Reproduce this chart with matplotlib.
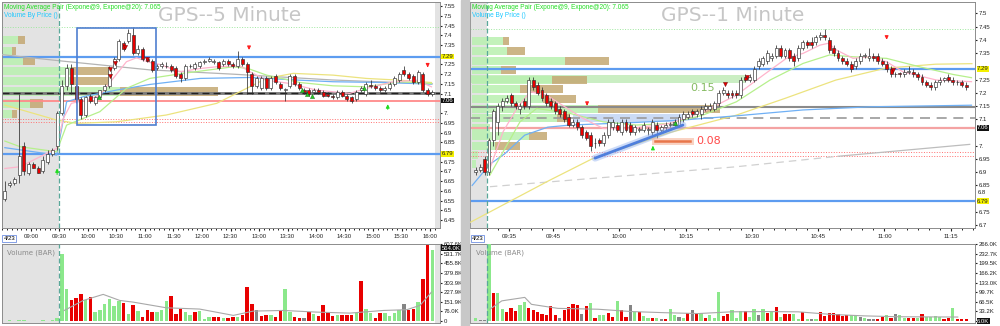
"""Two-panel intraday chart of GPS: 5-minute and 1-minute candles with volume."""

import matplotlib

matplotlib.use("Agg")
import matplotlib.pyplot as plt
import numpy as np
from matplotlib.patches import Rectangle

plt.rcParams["font.family"] = ["Liberation Sans", "DejaVu Sans"]

# ---------------- 5-minute panel, bar 0 = 08:30 ----------------
open5 = [6.56, 6.63, 6.64, 6.68, 6.83, 6.69, 6.74, 6.72, 6.70, 6.75, 6.79, 6.83,
         7.00, 7.14, 7.23, 7.14, 7.07, 6.99, 7.09, 7.05, 7.08, 7.12, 7.14, 7.23,
         7.28, 7.36, 7.37, 7.40, 7.31, 7.33, 7.28, 7.27, 7.23, 7.24, 7.24, 7.24,
         7.23, 7.20, 7.18, 7.24, 7.23, 7.24, 7.26, 7.27, 7.26, 7.26, 7.25, 7.27,
         7.25, 7.24, 7.28, 7.25, 7.20, 7.14, 7.13, 7.18, 7.13, 7.19, 7.15, 7.12,
         7.14, 7.19, 7.15, 7.12, 7.12, 7.11, 7.12, 7.11, 7.10, 7.09, 7.08, 7.11,
         7.09, 7.08, 7.07, 7.12, 7.10, 7.145, 7.14, 7.13, 7.12, 7.13, 7.15, 7.17,
         7.22, 7.20, 7.19, 7.16, 7.20, 7.12, 7.10]
high5 = [6.65, 6.65, 6.67, 7.10, 6.85, 6.75, 6.75, 6.73, 6.78, 6.81, 6.82, 7.01,
         7.17, 7.25, 7.25, 7.15, 7.08, 7.09, 7.10, 7.09, 7.12, 7.15, 7.24, 7.29,
         7.38, 7.37, 7.43, 7.44, 7.35, 7.34, 7.29, 7.28, 7.25, 7.26, 7.26, 7.25,
         7.24, 7.21, 7.25, 7.25, 7.26, 7.27, 7.28, 7.29, 7.28, 7.27, 7.28, 7.28,
         7.26, 7.32, 7.29, 7.26, 7.21, 7.19, 7.19, 7.19, 7.19, 7.20, 7.16, 7.13,
         7.20, 7.20, 7.16, 7.13, 7.13, 7.13, 7.13, 7.12, 7.11, 7.10, 7.12, 7.12,
         7.10, 7.09, 7.12, 7.14, 7.16, 7.17, 7.15, 7.14, 7.14, 7.16, 7.19, 7.21,
         7.24, 7.21, 7.20, 7.22, 7.21, 7.13, 7.12]
low5 = [6.55, 6.62, 6.63, 6.64, 6.68, 6.68, 6.72, 6.69, 6.69, 6.74, 6.78, 6.81,
        6.99, 7.12, 7.10, 7.05, 6.97, 6.98, 7.05, 7.04, 7.07, 7.11, 7.13, 7.22,
        7.27, 7.32, 7.36, 7.30, 7.30, 7.27, 7.26, 7.21, 7.22, 7.23, 7.23, 7.21,
        7.18, 7.16, 7.17, 7.23, 7.22, 7.23, 7.25, 7.26, 7.25, 7.22, 7.24, 7.24,
        7.23, 7.23, 7.24, 7.10, 7.10, 7.13, 7.12, 7.12, 7.12, 7.15, 7.12, 7.06,
        7.13, 7.14, 7.12, 7.10, 7.09, 7.10, 7.10, 7.08, 7.08, 7.07, 7.07, 7.08,
        7.06, 7.05, 7.06, 7.11, 7.09, 7.13, 7.12, 7.11, 7.11, 7.12, 7.14, 7.16,
        7.19, 7.17, 7.15, 7.15, 7.11, 7.09, 7.09]
close5 = [6.60, 6.64, 6.66, 6.78, 6.70, 6.74, 6.72, 6.69, 6.76, 6.79, 6.81, 7.00,
          7.14, 7.23, 7.15, 7.07, 6.99, 7.08, 7.06, 7.08, 7.12, 7.14, 7.23, 7.28,
          7.37, 7.33, 7.41, 7.31, 7.33, 7.28, 7.27, 7.22, 7.24, 7.25, 7.24, 7.22,
          7.19, 7.18, 7.24, 7.24, 7.25, 7.26, 7.27, 7.28, 7.27, 7.23, 7.27, 7.25,
          7.24, 7.28, 7.25, 7.21, 7.14, 7.18, 7.18, 7.13, 7.18, 7.16, 7.13, 7.12,
          7.19, 7.15, 7.13, 7.11, 7.10, 7.12, 7.11, 7.09, 7.09, 7.08, 7.11, 7.09,
          7.07, 7.06, 7.11, 7.13, 7.15, 7.14, 7.13, 7.12, 7.13, 7.15, 7.18, 7.20,
          7.20, 7.18, 7.16, 7.21, 7.12, 7.10, 7.11]
# volume in thousands and direction (1 up, -1 down, 0 unchanged)
vol5 = [4, 5, 3, 6, 5, 4, 3, 4, 5, 4, 6, 26, 533, 256, 169, 185, 211, 169, 190,
        71, 90, 132, 177, 116, 156, 142, 58, 129, 82, 34, 84, 69, 69, 90, 158, 195,
        53, 92, 69, 45, 69, 76, 18, 34, 32, 29, 26, 26, 32, 32, 50, 269, 137, 84,
        42, 50, 50, 32, 90, 256, 69, 29, 26, 26, 71, 53, 37, 124, 71, 40, 50, 50,
        50, 45, 63, 314, 98, 63, 26, 66, 66, 37, 63, 90, 132, 84, 92, 150, 335,
        598, 564]
voldir5 = [1, 1, 1, 1, 1, 1, 1, 1, 1, 1, 1, 1, 1, 1, -1, -1, -1, 1, -1, 1, 1, 1,
           1, 1, 1, -1, 1, -1, 1, -1, -1, -1, 1, 1, 1, -1, -1, -1, 1, 1, -1, 1, 1,
           1, -1, -1, 1, -1, -1, 1, -1, -1, -1, 0, -1, -1, 1, -1, -1, 1, 1, -1, -1,
           0, -1, 1, -1, -1, -1, -1, 1, -1, -1, -1, 1, -1, 1, 1, -1, -1, 1, 1, 1, 1,
           0, -1, -1, 1, -1, -1, 1]
vol_ma5 = [(12.5, 84), (16.5, 163), (20.7, 211), (24.2, 163), (27.0, 150), (34.0, 105),
           (41.0, 95), (48.1, 45), (52.3, 79), (58.6, 84), (65.6, 71), (72.6, 63),
           (79.7, 84), (84.6, 90), (87.4, 124), (89.8, 229)]
ema9_5 = [(0, 6.715), (3.2, 6.724), (10.9, 6.818), (12.3, 6.972), (14.0, 7.05),
          (17.2, 7.067), (20.0, 7.092), (22.8, 7.178), (25.6, 7.264), (27.7, 7.284),
          (30.5, 7.26), (32.6, 7.25), (36.8, 7.212), (41.1, 7.229), (44.6, 7.238),
          (49.5, 7.243), (51.6, 7.212), (55.1, 7.169), (60.0, 7.152), (65.6, 7.118),
          (72.6, 7.101), (76.1, 7.127), (81.8, 7.161), (86.7, 7.169), (89.8, 7.135)]
ema20_5 = [(0, 6.856), (3.2, 6.827), (10.9, 6.801), (13.0, 6.938), (20.0, 7.007),
           (25.6, 7.127), (30.5, 7.178), (37.5, 7.204), (48.1, 7.238), (51.2, 7.229),
           (55.1, 7.195), (62.1, 7.157), (69.1, 7.14), (76.1, 7.135), (83.2, 7.161),
           (89.8, 7.152)]
ma_yellow5 = [(0, 7.041), (10.9, 6.964), (15.1, 6.947), (23.5, 6.955), (34.0, 6.99),
              (44.6, 7.05), (50.9, 7.127), (55.1, 7.178), (60.7, 7.204), (69.1, 7.195),
              (76.1, 7.178), (83.2, 7.169), (89.8, 7.157)]
ma_blue5 = [(0, 6.822), (10.9, 6.784), (11.8, 6.90), (13.0, 7.058), (16.5, 7.084),
            (23.5, 7.118), (30.5, 7.147), (41.1, 7.178), (51.6, 7.183), (62.1, 7.169),
            (69.1, 7.161), (79.7, 7.157), (89.8, 7.149)]
ma_gray5 = [(-0.5, 7.30), (13.0, 7.265), (30.5, 7.222), (48.0, 7.20), (69.0, 7.17),
            (90.0, 7.15)]
vbp_levels5 = [7.375, 7.319, 7.267, 7.216, 7.164, 7.110, 7.049, 6.995]
vbp_up5 = [16, 10, 21, 70, 70, 118, 28, 10]
vbp_down5 = [7, 4, 12, 38, 38, 98, 13, 5]
sell_marks5 = [(22.2, 7.229), (22.2, 7.19), (23.2, 7.255), (25.2, 7.34), (30.0, 7.28)]
buy_marks5 = [(19.9, 7.08), (62.6, 7.118), (63.6, 7.10), (64.6, 7.09), (75.6, 7.127)]
down_arrows5 = [(51.4, 7.35, 7.31), (89.0, 7.26, 7.22)]
up_arrows5 = [(11.0, 6.67, 6.73), (80.6, 7.005, 7.06)]
time_labels5 = ["09:00", "09:30", "10:00", "10:30", "11:00", "11:30", "12:00", "12:30",
                "13:00", "13:30", "14:00", "14:30", "15:00", "15:30", "16:00"]
vol_ticks5 = [0, 76.0, 151.9, 227.9, 303.9, 379.8, 455.8, 531.7, 607.6]

# ---------------- 1-minute panel, bar 0 = 09:30 ----------------
minute1 = list(range(-3, 109))
open1 = [6.90, 6.91, 6.95, 6.90, 7.02, 7.09, 7.15, 7.17, 7.19, 7.16, 7.14, 7.17,
         7.15, 7.25, 7.23, 7.21, 7.19, 7.17, 7.16, 7.14, 7.13, 7.11, 7.08, 7.09,
         7.07, 7.05, 7.04, 7.01, 7.02, 7.01, 7.04, 7.07, 7.08, 7.05, 7.09, 7.08,
         7.05, 7.06, 7.06, 7.06, 7.05, 7.08, 7.06, 7.07, 7.08, 7.08, 7.08, 7.10,
         7.11, 7.13, 7.12, 7.12, 7.14, 7.14, 7.14, 7.16, 7.20, 7.20, 7.20, 7.20,
         7.19, 7.26, 7.25, 7.25, 7.30, 7.31, 7.32, 7.33, 7.34, 7.37, 7.34, 7.36,
         7.34, 7.33, 7.37, 7.39, 7.39, 7.39, 7.41, 7.42, 7.40, 7.37, 7.35, 7.33,
         7.32, 7.31, 7.30, 7.32, 7.34, 7.33, 7.34, 7.34, 7.32, 7.31, 7.29, 7.27,
         7.275, 7.27, 7.28, 7.28, 7.27, 7.26, 7.24, 7.23, 7.22, 7.24, 7.25, 7.26,
         7.25, 7.24, 7.24, 7.23]
high1 = [6.92, 6.93, 6.96, 7.03, 7.14, 7.16, 7.18, 7.19, 7.20, 7.17, 7.16, 7.18,
         7.26, 7.26, 7.24, 7.22, 7.20, 7.18, 7.17, 7.15, 7.14, 7.12, 7.10, 7.10,
         7.08, 7.06, 7.05, 7.03, 7.03, 7.05, 7.10, 7.10, 7.09, 7.10, 7.10, 7.09,
         7.08, 7.07, 7.09, 7.07, 7.10, 7.09, 7.08, 7.09, 7.09, 7.10, 7.12, 7.13,
         7.13, 7.14, 7.14, 7.15, 7.16, 7.16, 7.17, 7.21, 7.22, 7.21, 7.21, 7.21,
         7.26, 7.27, 7.27, 7.30, 7.33, 7.34, 7.36, 7.35, 7.38, 7.38, 7.37, 7.37,
         7.35, 7.38, 7.40, 7.40, 7.41, 7.42, 7.43, 7.44, 7.41, 7.38, 7.36, 7.34,
         7.33, 7.32, 7.33, 7.35, 7.35, 7.37, 7.35, 7.35, 7.33, 7.32, 7.30, 7.28,
         7.28, 7.29, 7.30, 7.29, 7.28, 7.27, 7.25, 7.24, 7.25, 7.26, 7.26, 7.27,
         7.26, 7.25, 7.25, 7.24]
low1 = [6.89, 6.90, 6.89, 6.89, 7.00, 7.04, 7.13, 7.16, 7.15, 7.14, 7.12, 7.14,
        7.14, 7.21, 7.19, 7.17, 7.15, 7.14, 7.12, 7.11, 7.09, 7.07, 7.07, 7.06,
        7.03, 7.02, 6.98, 6.99, 7.00, 7.00, 7.03, 7.06, 7.05, 7.04, 7.05, 7.04,
        7.04, 7.05, 7.05, 7.04, 7.04, 7.03, 7.05, 7.06, 7.07, 7.07, 7.07, 7.09,
        7.10, 7.11, 7.11, 7.10, 7.13, 7.13, 7.13, 7.15, 7.19, 7.18, 7.18, 7.18,
        7.18, 7.24, 7.24, 7.24, 7.29, 7.30, 7.31, 7.32, 7.33, 7.33, 7.33, 7.32,
        7.30, 7.32, 7.36, 7.37, 7.37, 7.38, 7.40, 7.40, 7.35, 7.34, 7.32, 7.31,
        7.30, 7.28, 7.29, 7.31, 7.33, 7.32, 7.32, 7.31, 7.30, 7.28, 7.26, 7.26,
        7.26, 7.26, 7.27, 7.26, 7.25, 7.23, 7.22, 7.21, 7.21, 7.23, 7.24, 7.24,
        7.23, 7.23, 7.22, 7.21]
close1 = [6.91, 6.92, 6.90, 7.02, 7.13, 7.15, 7.17, 7.18, 7.16, 7.15, 7.15, 7.15,
          7.25, 7.22, 7.20, 7.18, 7.16, 7.15, 7.13, 7.12, 7.10, 7.08, 7.09, 7.07,
          7.04, 7.03, 7.00, 7.01, 7.01, 7.04, 7.09, 7.09, 7.06, 7.09, 7.06, 7.05,
          7.07, 7.06, 7.08, 7.06, 7.09, 7.06, 7.07, 7.08, 7.08, 7.09, 7.11, 7.12,
          7.12, 7.12, 7.13, 7.14, 7.15, 7.15, 7.16, 7.20, 7.21, 7.19, 7.19, 7.19,
          7.25, 7.25, 7.26, 7.29, 7.32, 7.33, 7.35, 7.34, 7.37, 7.34, 7.36, 7.33,
          7.32, 7.37, 7.39, 7.38, 7.38, 7.41, 7.42, 7.41, 7.36, 7.35, 7.33, 7.32,
          7.31, 7.29, 7.32, 7.34, 7.34, 7.34, 7.33, 7.32, 7.31, 7.29, 7.27, 7.27,
          7.27, 7.28, 7.28, 7.27, 7.26, 7.24, 7.23, 7.22, 7.24, 7.25, 7.255, 7.25,
          7.24, 7.24, 7.23, 7.22]
vol1 = [12, 3, 3, 268, 96, 96, 41, 33, 47, 35, 55, 66, 44, 37, 31, 23, 20, 52, 20,
        12, 38, 50, 60, 56, 26, 52, 62, 9, 21, 21, 29, 15, 70, 37, 15, 55, 33, 33,
        18, 12, 12, 12, 6, 6, 43, 20, 15, 9, 27, 37, 23, 29, 12, 20, 12, 99, 18,
        26, 37, 12, 35, 35, 15, 41, 20, 41, 29, 35, 49, 14, 26, 26, 26, 6, 31, 8,
        8, 8, 31, 18, 29, 29, 23, 18, 20, 20, 20, 15, 12, 6, 6, 6, 15, 20, 12, 23,
        20, 12, 12, 12, 12, 23, 15, 15, 18, 15, 8, 12, 44, 6, 8, 6]
voldir1 = [1, 0, 0, 1, -1, 1, 1, -1, -1, -1, 1, 1, -1, -1, -1, -1, -1, -1, -1, 0,
           -1, -1, -1, -1, 0, -1, 1, -1, 1, 1, -1, -1, 1, -1, -1, 0, 1, -1, 1, 1,
           -1, 1, 0, -1, 1, 1, 0, 1, -1, 0, -1, 1, -1, 1, 1, 1, -1, -1, 1, 1, 1,
           -1, 1, 1, 0, 1, -1, 1, -1, 1, -1, -1, 1, 1, -1, 1, 0, 1, -1, -1, -1, -1,
           -1, -1, -1, 1, 1, 0, 1, 0, 0, -1, -1, 1, -1, 0, 1, 1, -1, -1, 1, -1, 1,
           1, 1, 1, -1, -1, 1, -1, -1, -1]
vol_ma1 = [(0.2, 41), (2.9, 70), (8.1, 82), (9.6, 58), (15.6, 44), (24.7, 41),
           (32.2, 33), (39.8, 29), (47.3, 26), (54.8, 32), (62.4, 33), (70.0, 32),
           (77.5, 23), (85.0, 18), (92.6, 15), (106.1, 14)]
ema9_1 = [(0.2, 6.914), (3.2, 7.053), (6.3, 7.141), (9.3, 7.204), (13.0, 7.191),
          (18.3, 7.135), (21.3, 7.103), (25.9, 7.065), (31.9, 7.065), (40.9, 7.084),
          (48.5, 7.128), (56.0, 7.191), (62.1, 7.267), (67.3, 7.330), (71.1, 7.349),
          (74.9, 7.380), (76.8, 7.387), (78.7, 7.361), (82.4, 7.330), (86.2, 7.336),
          (90.0, 7.317), (93.7, 7.279), (101.3, 7.248), (109.2, 7.242)]
ema20_1 = [(0.2, 6.889), (3.2, 6.977), (7.0, 7.090), (10.8, 7.141), (18.3, 7.122),
           (25.9, 7.090), (33.4, 7.078), (40.9, 7.084), (48.5, 7.116), (56.0, 7.166),
           (63.6, 7.248), (71.1, 7.311), (77.1, 7.343), (82.4, 7.336), (90.0, 7.330),
           (97.5, 7.298), (105.1, 7.269), (109.2, 7.257)]
ma_yellow1 = [(-4.3, 6.71), (13.8, 6.87), (23.3, 6.95), (41.0, 7.05), (55.9, 7.115),
              (67.2, 7.18), (78.5, 7.248), (89.8, 7.293), (101.1, 7.308), (109.3, 7.31)]
ma_blue1 = [(-3.8, 6.85), (0.2, 6.93), (3.6, 6.97), (8.1, 7.04), (13.3, 7.07),
            (18.3, 7.078), (33.5, 7.088), (43.9, 7.097), (56.1, 7.113), (71.0, 7.135),
            (86.2, 7.147), (109.2, 7.153)]
ma_gray1 = [(0.2, 6.845), (55.7, 6.92), (79.0, 6.96), (108.8, 7.005)]
vbp_levels1 = [7.395, 7.357, 7.320, 7.286, 7.250, 7.214, 7.176, 7.140, 7.104, 7.068,
               7.036, 7.000, 6.964, 6.930]
vbp_up1 = [31, 35, 93, 29, 80, 48, 71, 126, 85, 18, 57, 23, 6, 4]
vbp_down1 = [6, 18, 44, 15, 35, 43, 33, 122, 13, 0, 18, 25, 0, 0]
sell_marks1 = [(53.4, 7.232), (58.3, 7.26), (91.5, 7.286)]
buy_marks1 = [(42.1, 7.084)]
down_arrows1 = [(22.2, 7.17, 7.14), (90.0, 7.42, 7.39)]
up_arrows1 = [(37.1, 6.98, 7.01)]
time_ticks1 = [4.5, 14.5, 29.5, 44.5, 59.5, 74.5, 89.5, 104.5]
time_labels1 = ["09:35", "09:45", "10:00", "10:15", "10:30", "10:45", "11:00", "11:15"]
vol_ticks1 = [0, 33.2, 66.5, 99.7, 133.0, 166.2, 199.5, 232.7, 266.0]

GREEN_VOL = "#8be88b"
RED = "#e80000"
EDGE = "#303030"


def draw_candles(ax, x, opens, highs, lows, closes, width=0.62):
    """Draw OHLC candles: white body when up, red when down."""
    o = np.asarray(opens, float)
    c = np.asarray(closes, float)
    ax.vlines(x, lows, highs, color=EDGE, lw=0.55, zorder=4)
    bottom = np.minimum(o, c)
    height = np.maximum(np.abs(c - o), 0.002)
    colors = np.where(c >= o, "white", RED)
    ax.bar(x, height, width, bottom=bottom, color=colors, edgecolor=EDGE,
           linewidth=0.45, zorder=5)


def draw_volume(ax, x, volumes, directions, vol_ma, width=0.72):
    """Draw volume bars colored by direction with the average line."""
    palette = {1: GREEN_VOL, -1: RED, 0: "#858585"}
    colors = [palette[d] for d in directions]
    ax.bar(x, volumes, width, color=colors, edgecolor="none", zorder=3)
    ma = np.array(vol_ma)
    ax.plot(ma[:, 0], ma[:, 1], color="#a8a8a8", lw=0.8, zorder=4)


def draw_vbp(ax, x0, levels, ups, downs, px_per_bar, height):
    """Volume-by-price rows anchored to the left edge (lengths given in pixels)."""
    ups = np.asarray(ups) / px_per_bar
    downs = np.asarray(downs) / px_per_bar
    ax.barh(levels, ups, height, left=x0, color="#b9f0b0", alpha=0.85, zorder=1)
    ax.barh(levels, downs, height, left=x0 + ups, color="#c4a872", alpha=0.85, zorder=1)


def plot_line(ax, pts, color, lw=0.9, ls="-", z=3):
    arr = np.array(pts)
    ax.plot(arr[:, 0], arr[:, 1], color=color, lw=lw, ls=ls, zorder=z)


def fmt_price(v):
    return f"{v:.2f}".rstrip("0")


def style_price_axis(ax, xlim, ylim, yticks):
    ax.set_xlim(*xlim)
    ax.set_ylim(*ylim)
    ax.yaxis.tick_right()
    ax.set_yticks(yticks)
    ax.set_yticklabels([fmt_price(v) for v in yticks])
    ax.tick_params(axis="y", labelsize=4.3, length=1.5, pad=1, colors="#222222")
    ax.tick_params(axis="x", labelsize=4.3, length=2.5, pad=1.5, colors="#222222")
    ax.tick_params(axis="x", which="minor", length=1.3)
    for s in ax.spines.values():
        s.set_color("#8c8c8c")
        s.set_linewidth(0.7)


def style_volume_axis(ax, xlim, ticks, labels):
    ax.set_xlim(*xlim)
    step = ticks[1]
    ax.set_ylim(-step * 0.2, ticks[-1] * 1.003)
    ax.yaxis.tick_right()
    ax.set_yticks(ticks)
    ax.set_yticklabels(labels)
    ax.tick_params(axis="y", labelsize=4.3, length=1.5, pad=1, colors="#222222")
    ax.set_xticks([])
    for s in ax.spines.values():
        s.set_color("#8c8c8c")
        s.set_linewidth(0.7)
    ax.text(0.012, 0.93, "Volume (BAR)", transform=ax.transAxes, fontsize=5,
            color="#8a8a8a", va="top", family="DejaVu Sans")


def value_box(ax, y, text, face, color):
    ax.text(1.004, y, text, transform=ax.get_yaxis_transform(),
            fontsize=4.3, color=color, va="center", ha="left", zorder=10,
            bbox=dict(boxstyle="square,pad=0.05", fc=face, ec="none"))


def headers(ax, title):
    ax.text(0.004, 0.975, "Moving Average Pair (Expone@9, Expone@20): 7.065",
            transform=ax.transAxes, fontsize=4.7, color="#22dd22", va="center",
            zorder=10)
    ax.text(0.004, 0.94, "Volume By Price ()", transform=ax.transAxes, fontsize=4.7,
            color="#1ec8ff", va="center", zorder=10)
    ax.text(0.52, 0.94, title, transform=ax.transAxes, fontsize=14.5,
            color="#c6c6c6", ha="center", va="center", family="DejaVu Sans", zorder=10)


def arrows(ax, downs, ups):
    for x, y0, y1 in downs:
        ax.annotate("", xy=(x, y1), xytext=(x, y0), zorder=9,
                    arrowprops=dict(arrowstyle="-|>", color="#ff2020", lw=0.8,
                                    mutation_scale=5))
    for x, y0, y1 in ups:
        ax.annotate("", xy=(x, y1), xytext=(x, y0), zorder=9,
                    arrowprops=dict(arrowstyle="-|>", color="#22dd22", lw=0.8,
                                    mutation_scale=5))


def marks(ax, sells, buys):
    if sells:
        s = np.array(sells)
        ax.scatter(s[:, 0], s[:, 1], marker="v", s=9, color="#e00000",
                   edgecolor="#600000", linewidth=0.3, zorder=8)
    if buys:
        b = np.array(buys)
        ax.scatter(b[:, 0], b[:, 1], marker="^", s=9, color="#22cc22",
                   edgecolor="#106010", linewidth=0.3, zorder=8)


fig = plt.figure(figsize=(10, 3.26), dpi=100, facecolor="white")
H = 326.0
W = 1000.0


def axes_px(x0, y0, x1, y1):
    return fig.add_axes([x0 / W, 1 - y1 / H, (x1 - x0) / W, (y1 - y0) / H])


# gray divider between the two charts
fig.patches.append(Rectangle((461 / W, 0), 8 / W, 1, transform=fig.transFigure,
                             color="#c8c8c8", zorder=0))

# ================= left: 5 minute =================
ax5 = axes_px(2, 2, 440, 228)
av5 = axes_px(2, 244, 440, 323)
xlim5 = (-0.6, 91.6)
x5 = np.arange(len(open5))

for ax in (ax5, av5):
    ax.axvspan(xlim5[0], 11.4, color="#e3e3e3", zorder=0, lw=0)
    ax.axvspan(90.6, xlim5[1], color="#e3e3e3", zorder=0, lw=0)
    ax.axvline(11.4, color="#5aa89a", lw=0.9, ls=(0, (4, 2)), zorder=6)

draw_vbp(ax5, xlim5[0] + 0.1, vbp_levels5, vbp_up5, vbp_down5, 4.75, 0.044)
ax5.axhline(7.44, color="#9fe89f", lw=0.7, ls=":", zorder=2)
ax5.axhline(7.29, color="#5d9cf0", lw=1.6, zorder=2)
ax5.axhline(6.79, color="#5d9cf0", lw=1.6, zorder=2)
ax5.axhline(7.104, color="#7a7a7a", lw=2.0, zorder=2)
ax5.axhline(7.104, color="#222222", lw=1.0, ls=(0, (5, 3)), zorder=2)
ax5.axhline(7.061, color="#ff8a8a", lw=1.3, zorder=2)
ax5.axhline(6.969, color="#ff7070", lw=0.7, ls=":", zorder=2)
ax5.axhline(6.952, color="#ff7070", lw=0.7, ls=":", zorder=2)

plot_line(ax5, ma_gray5, "#b4b4b4")
plot_line(ax5, ma_yellow5, "#ece37e")
plot_line(ax5, ma_blue5, "#6fb0f5")
plot_line(ax5, ema20_5, "#b6f08c")
plot_line(ax5, ema9_5, "#ffb4cc")
draw_candles(ax5, x5, open5, high5, low5, close5)
marks(ax5, sell_marks5, buy_marks5)
arrows(ax5, down_arrows5, up_arrows5)
ax5.add_patch(Rectangle((15.2, 6.938), 16.6, 0.499, fill=False, ec="#4f7fd0",
                        lw=1.2, zorder=7))

yt5 = [v / 100 for v in range(645, 756, 5) if v not in (730, 680, 705)]
style_price_axis(ax5, xlim5, (6.409, 7.571), yt5)
ax5.set_xticks([5.5 + 6 * k for k in range(len(time_labels5))])
ax5.set_xticklabels(time_labels5)
ax5.set_xticks(np.arange(-0.5, 91, 1.0), minor=True)
value_box(ax5, 7.29, "7.29", "#f4f000", "#222222")
value_box(ax5, 6.79, "6.79", "#f4f000", "#222222")
value_box(ax5, 7.065, "7.06", "#111111", "white")
ax5.text(0.003, -0.035, "4/23", transform=ax5.transAxes, fontsize=4.3, va="top",
         bbox=dict(boxstyle="square,pad=0.15", fc="white", ec="#6f8fe0", lw=0.6))
headers(ax5, "GPS--5 Minute")

draw_volume(av5, x5, vol5, voldir5, vol_ma5)
labels5 = ["0" if t == 0 else f"{t:.1f}K" for t in vol_ticks5]
style_volume_axis(av5, xlim5, vol_ticks5, labels5)
value_box(av5, (vol_ticks5[-1] + vol_ticks5[-2]) / 2 + 8, f"{vol5[-1]:.1f}K",
          "#111111", "white")

# ================= right: 1 minute =================
ax1 = axes_px(470, 2, 975, 228)
av1 = axes_px(470, 244, 975, 323)
xlim1 = (-4.3, 110.0)
x1 = np.array(minute1)

for ax in (ax1, av1):
    ax.axvspan(xlim1[0], -0.5, color="#e3e3e3", zorder=0, lw=0)
    ax.axvline(-0.5, color="#5aa89a", lw=0.9, ls=(0, (4, 2)), zorder=6)

ax1.fill_between([-4.2, 58.0], 7.236, 7.266, color="#bdeab4", alpha=0.8, zorder=1, lw=0)
draw_vbp(ax1, xlim1[0] + 0.4, vbp_levels1, vbp_up1, vbp_down1, 4.42, 0.03)
ax1.add_patch(Rectangle((19.0, 7.09), 24.9, 0.03, color="#a9c3ef", alpha=0.6,
                        lw=0, zorder=1))
ax1.axhline(7.44, color="#9fe89f", lw=0.7, ls=":", zorder=2)
ax1.axhline(7.29, color="#5d9cf0", lw=1.6, zorder=2)
ax1.axhline(6.79, color="#5d9cf0", lw=1.6, zorder=2)
ax1.axhline(7.145, color="#8a8a8a", lw=1.5, zorder=2)
ax1.axhline(7.106, color="#9a9a9a", lw=1.2, ls=(0, (6, 4)), zorder=2)
ax1.axhline(7.068, color="#f4a3a3", lw=1.6, zorder=2)
ax1.axhline(6.977, color="#ff7070", lw=0.7, ls=":", zorder=2)
ax1.axhline(6.961, color="#ff7070", lw=0.7, ls=":", zorder=2)

plot_line(ax1, ma_gray1[:3], "#d0d0d0", ls=(0, (6, 4)))
plot_line(ax1, ma_gray1[2:], "#bdbdbd")
plot_line(ax1, ma_yellow1, "#ece37e")
plot_line(ax1, ma_blue1, "#6fb0f5")
plot_line(ax1, ema20_1, "#b6f08c")
plot_line(ax1, ema9_1, "#ffb4cc")

# trend line with a soft glow, and the 0.08 / 0.15 measurements
ax1.plot([24.0, 43.9], [6.953, 7.078], color="#8fb0f0", lw=5, alpha=0.45, zorder=6,
         solid_capstyle="round")
ax1.plot([24.0, 43.9], [6.953, 7.078], color="#4f7fdc", lw=2, zorder=6,
         solid_capstyle="round")
ax1.plot([37.6, 45.5], [7.017, 7.017], color="#f6b49a", lw=5, alpha=0.6, zorder=6)
ax1.plot([37.6, 45.5], [7.017, 7.017], color="#e8764a", lw=1.8, zorder=6)
ax1.text(47.0, 7.017, "0.08", color="#ff4848", fontsize=8, va="center", zorder=9,
         family="DejaVu Sans")
ax1.text(45.5, 7.218, "0.15", color="#86bb62", fontsize=8, va="center", zorder=9,
         family="DejaVu Sans")

draw_candles(ax1, x1, open1, high1, low1, close1, width=0.66)
marks(ax1, sell_marks1, buy_marks1)
arrows(ax1, down_arrows1, up_arrows1)

yt1 = [v / 100 for v in range(670, 751, 5) if v not in (730, 705, 680)]
style_price_axis(ax1, xlim1, (6.689, 7.543), yt1)
ax1.set_xticks(time_ticks1)
ax1.set_xticklabels(time_labels1)
ax1.set_xticks(np.arange(-0.5, 110, 2.5), minor=True)
value_box(ax1, 7.29, "7.29", "#f4f000", "#222222")
value_box(ax1, 6.79, "6.79", "#f4f000", "#222222")
value_box(ax1, 7.068, "7.06", "#111111", "white")
# the 6.8 label sits just above the highlighted 6.79 box
ax1.text(1.006, 6.812, "6.8", transform=ax1.get_yaxis_transform(), fontsize=4.3,
         color="#222222", va="bottom", ha="left")
ax1.text(0.003, -0.035, "4/23", transform=ax1.transAxes, fontsize=4.3, va="top",
         bbox=dict(boxstyle="square,pad=0.15", fc="white", ec="#6f8fe0", lw=0.6))
headers(ax1, "GPS--1 Minute")

draw_volume(av1, x1, vol1, voldir1, vol_ma1)
labels1 = ["" if t == 0 else f"{t:.1f}K" for t in vol_ticks1]
style_volume_axis(av1, xlim1, vol_ticks1, labels1)
value_box(av1, 0, f"{vol1[-1]:.1f}K", "#111111", "white")

fig.savefig("out.png", dpi=100, facecolor=fig.get_facecolor())
